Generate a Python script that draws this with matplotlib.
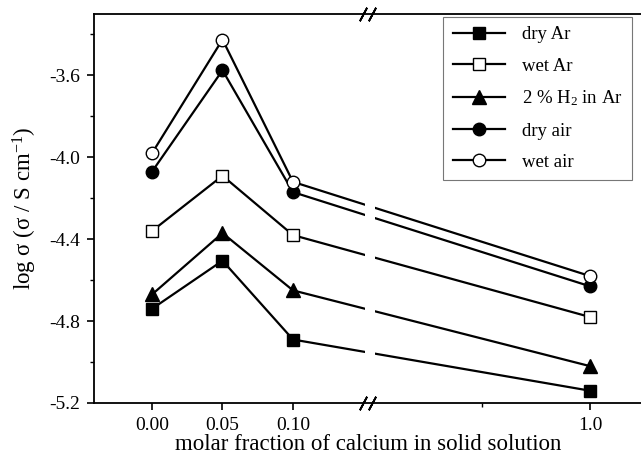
import numpy as np
import matplotlib
matplotlib.use("Agg")
import matplotlib.pyplot as plt

plt.rcParams['font.family'] = ['Liberation Serif', 'DejaVu Serif']
plt.rcParams['mathtext.fontset'] = 'custom'
plt.rcParams['mathtext.rm'] = 'Liberation Serif'
plt.rcParams['mathtext.it'] = 'Liberation Serif:italic'
plt.rcParams['axes.unicode_minus'] = False

# data
x_frac = [0.00, 0.05, 0.10, 1.0]
dry_ar = [-4.74, -4.505, -4.89, -5.14]
wet_ar = [-4.36, -4.09, -4.38, -4.78]
h2_ar = [-4.67, -4.37, -4.65, -5.02]
dry_air = [-4.07, -3.575, -4.17, -4.63]
wet_air = [-3.98, -3.425, -4.12, -4.58]

x_ticks = [0.00, 0.05, 0.10, 1.0]
x_tick_labels = ['0.00', '0.05', '0.10', '1.0']

# broken x axis: compress the region between brk_lo and brk_hi
brk_lo, brk_hi = 0.1532, 0.7944
ratio = 1080 / 1410
eps = 1e-6
xk = np.array([-10, brk_lo, brk_hi, 10])
tk = np.array([-10, brk_lo, brk_lo + eps, brk_lo + eps + (10 - brk_hi) * ratio])

def fwd(x):
    return np.interp(x, xk, tk)

def inv(t):
    return np.interp(t, tk, xk)

fig = plt.figure(figsize=(6.41, 4.63), dpi=100)
ax = fig.add_axes([0.1474, 0.1296, 0.8526, 0.8402])
ax.set_xscale('function', functions=(fwd, inv))

series = [
    (dry_ar, 's', 'black', 'dry Ar', 8.5),
    (wet_ar, 's', 'white', 'wet Ar', 8.5),
    (h2_ar, '^', 'black', '2 % H$_2$ in Ar', 10),
    (dry_air, 'o', 'black', 'dry air', 9),
    (wet_air, 'o', 'white', 'wet air', 9),
]
for vals, mk, fc, lab, ms in series:
    ax.plot(x_frac, vals, color='black', lw=1.6, marker=mk, markersize=ms,
            markerfacecolor=fc, markeredgecolor='black', markeredgewidth=1.0,
            label=lab, zorder=2)

ax.set_xlim(-0.0408, 1.0472)
ax.set_ylim(-5.2, -3.3)

# gap in the lines at the break
ax.axvspan(0.151, 0.801, color='white', zorder=2.2, lw=0)

# break marks on top and bottom spines
trans = ax.get_xaxis_transform()
for xb in [0.1496, 0.7981]:
    for yb in [0, 1]:
        ax.plot([xb], [yb], transform=trans, marker=(2, 2, -28), markersize=11,
                markeredgewidth=1.3, color='black', clip_on=False, zorder=5)

ax.set_xticks(x_ticks)
ax.set_xticklabels(x_tick_labels)
ax.set_xticks([0.9], minor=True)
ax.set_yticks([-5.2, -4.8, -4.4, -4.0, -3.6])
ax.set_yticklabels(['-5.2', '-4.8', '-4.4', '-4.0', '-3.6'])
ax.set_yticks([-5.0, -4.6, -4.2, -3.8, -3.4], minor=True)

ax.tick_params(axis='both', which='major', direction='out', length=5, width=1.2,
               labelsize=14, pad=5)
ax.tick_params(axis='both', which='minor', direction='out', length=3, width=1.0)
ax.tick_params(axis='y', which='both', right=False)
ax.tick_params(axis='x', which='both', top=False)

for side in ['left', 'bottom', 'top']:
    ax.spines[side].set_linewidth(1.3)
ax.spines['right'].set_visible(False)

ax.set_xlabel('molar fraction of calcium in solid solution', fontsize=16.5, labelpad=0)
ax.set_ylabel(r'log σ (σ / S cm$^{-1}$)', fontsize=16.5, labelpad=8)

leg = ax.legend(loc='upper right', bbox_to_anchor=(0.9835, 0.9923), fontsize=13.5,
                frameon=True, fancybox=False, handlelength=2.8, handletextpad=0.9,
                labelspacing=0.75, borderpad=0.5, borderaxespad=0)
leg.get_frame().set_edgecolor('#555555')
leg.get_frame().set_linewidth(0.8)

plt.savefig('out.png', dpi=100)
